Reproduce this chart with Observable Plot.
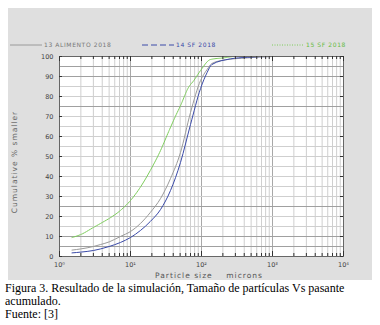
<!DOCTYPE html>
<html><head><meta charset="utf-8">
<script src="https://cdn.jsdelivr.net/npm/d3@7"></script>
<script src="https://cdn.jsdelivr.net/npm/@observablehq/plot@0.6"></script>
<style>
body{margin:0;background:#fff;width:380px;height:325px;position:relative;overflow:hidden;font-family:"DejaVu Sans",sans-serif}
#panel{position:absolute;left:8px;top:8px;width:364px;height:272px;background:#dfdfdf}
#legend{position:relative;height:40px}
.item{position:absolute;top:33px;font-size:6px;letter-spacing:0.6px;white-space:nowrap;display:flex;align-items:center}
.item svg{margin-right:2px}
#ylab{position:absolute;left:14px;top:162px;transform:translate(-50%,-50%) rotate(-90deg);font-size:7.5px;letter-spacing:1px;color:#666;white-space:nowrap}
#xlab{position:absolute;left:209px;top:271px;transform:translateX(-50%);font-size:7.5px;letter-spacing:1px;color:#555;white-space:pre}
#caption{position:absolute;left:5px;top:282px;font-family:"Liberation Serif",serif;font-size:12px;line-height:13px;color:#000}
</style></head>
<body>
<div id="panel">
  <div id="legend"></div>
  <div id="chart"></div>
</div>
<div id="ylab">Cumulative % smaller</div>
<div id="xlab">Particle size    microns</div>
<div id="caption">Figura 3. Resultado de la simulación, Tamaño de partículas Vs pasante<br>acumulado.<br>Fuente: [3]</div>
<script>
// Series names
const seriesNames = ["13 ALIMENTO 2018", "14 SF 2018", "15 SF 2018"];
// 13 ALIMENTO 2018 (gray)
const sizeA = [1.5, 2, 3, 3.8, 5, 7.2, 10, 13.8, 19, 26.5, 36.6, 50.6, 70, 97, 120, 140, 207, 440, 1000, 10000];
const pctA  = [3.2, 3.8, 5, 6, 7.3, 10, 12.5, 16.5, 22, 29, 39, 52, 72, 88, 93.5, 96.5, 98.2, 99.3, 100, 100];
// 14 SF 2018 (blue)
const sizeB = [1.5, 2, 3, 3.8, 5, 7.2, 10, 13.8, 19, 26.5, 36.6, 50.6, 70, 97, 120, 140, 255, 440, 1000, 10000];
const pctB  = [1.8, 2.2, 3, 3.8, 5, 7, 9.5, 13, 17.5, 23.5, 33, 47, 66, 84, 92, 96, 98.8, 99.6, 100, 100];
// 15 SF 2018 (green)
const sizeC = [1.5, 2, 3, 4, 5, 7.2, 10, 13.8, 19, 26.5, 35, 45.5, 50, 66, 78, 97, 134, 204, 300, 10000];
const pctC  = [9.5, 11, 14.5, 17, 19, 23, 28, 34.7, 43, 53, 63, 72, 75, 84.7, 88, 93, 98.5, 99.3, 100, 100];
// tick values
const yTicks = [0,10,20,30,40,50,60,70,80,90,100];
const yGrid = [5,10,15,20,25,30,35,40,45,50,55,60,65,70,75,80,85,90,95];
const yGridDark = [5,10,25,75,90,95];
const decades = [1,10,100,1000,10000];
const decadeLabels = ["10⁰","10¹","10²","10³","10⁴"];
const minorTicks = [];
for (const d of [1,10,100,1000]) for (const m of [2,3,4,5,6,7,8,9]) minorTicks.push(d*m);

const colors = ["#9a9a9a", "#3a4aa8", "#7ccc5a"];

const data = [];
sizeA.forEach((s,i)=>data.push({s:seriesNames[0], x:s, y:pctA[i]}));
sizeB.forEach((s,i)=>data.push({s:seriesNames[1], x:s, y:pctB[i]}));
sizeC.forEach((s,i)=>data.push({s:seriesNames[2], x:s, y:pctC[i]}));

// legend
const legend = document.getElementById("legend");
const legendPos = [2, 134, 264];
const legendText = ["#777", "#3a4aa8", "#66bb44"];
const legendLineStyle = [null, "6,3", "1,1.5"];
seriesNames.forEach((n,i)=>{
  const d = document.createElement("div");
  d.className = "item";
  d.style.left = legendPos[i] + "px";
  d.style.color = legendText[i];
  d.innerHTML = `<svg width="32" height="4"><line x1="0" y1="2" x2="32" y2="2" stroke="${colors[i]}" stroke-width="1" ${legendLineStyle[i]?`stroke-dasharray="${legendLineStyle[i]}"`:""}/></svg>${n}`;
  legend.appendChild(d);
});

const chart = Plot.plot({
  width: 364, height: 232,
  marginLeft: 51, marginRight: 29, marginTop: 8, marginBottom: 24,
  style: {background: "transparent", fontFamily: "DejaVu Sans", fontSize: "6.5px", color: "#444"},
  x: {type: "log", domain: [1, 10000]},
  y: {domain: [0, 100]},
  marks: [
    Plot.frame({fill: "white", stroke: null}),
    Plot.gridX(minorTicks, {stroke: "#cfcfcf", strokeOpacity: 1}),
    Plot.gridX(decades, {stroke: "#a8a8a8", strokeOpacity: 1}),
    Plot.gridY(yGrid, {stroke: "#cfcfcf", strokeOpacity: 1}),
    Plot.gridY(yGridDark, {stroke: "#a0a0a0", strokeOpacity: 1}),
    Plot.line(data.filter(d=>d.s===seriesNames[0]), {x:"x", y:"y", stroke: colors[0], strokeWidth: 1, curve: "monotone-x"}),
    Plot.line(data.filter(d=>d.s===seriesNames[1]), {x:"x", y:"y", stroke: colors[1], strokeWidth: 1, curve: "monotone-x"}),
    Plot.line(data.filter(d=>d.s===seriesNames[2]), {x:"x", y:"y", stroke: colors[2], strokeWidth: 1, strokeDasharray: "1.5,0.8", curve: "monotone-x"}),
    Plot.frame({stroke: "#666"}),
    Plot.tickY(yTicks, {y: d=>d, stroke: "#333", insetRight: 281}),
    Plot.tickY(yTicks, {y: d=>d, stroke: "#333", insetLeft: 281}),
    Plot.tickX(minorTicks, {x: d=>d, stroke: "#333", insetBottom: 197}),
    Plot.tickX(minorTicks, {x: d=>d, stroke: "#333", insetTop: 197}),
    Plot.tickX(decades, {x: d=>d, stroke: "#333", insetBottom: 195}),
    Plot.tickX(decades, {x: d=>d, stroke: "#333", insetTop: 195}),
    Plot.axisY(yTicks, {anchor: "left", tickSize: 0, tickPadding: 6, label: null}),
    Plot.axisX(decades, {anchor: "bottom", tickSize: 0, tickPadding: 6, label: null, tickFormat: (d)=>decadeLabels[decades.indexOf(d)]})
  ]
});
document.getElementById("chart").appendChild(chart);
</script>
</body></html>
